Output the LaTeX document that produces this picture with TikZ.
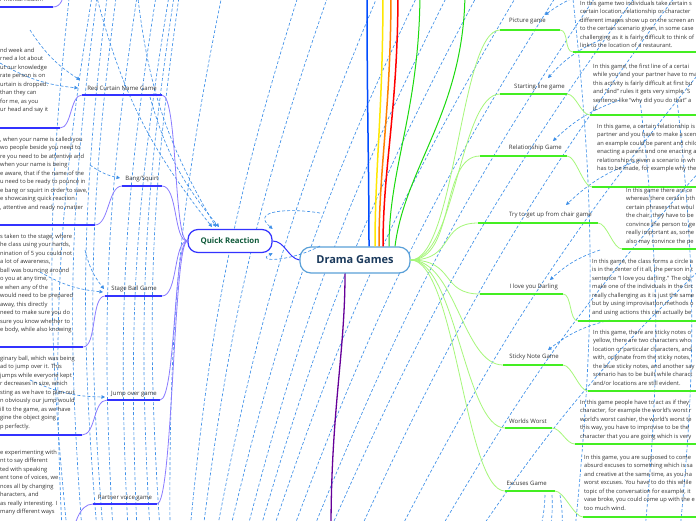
\documentclass[tikz,border=0pt]{standalone}
\usepackage{fontspec}
\setmainfont{Open Sans}
\usetikzlibrary{arrows.meta}
\definecolor{relblue}{HTML}{3D8FE8}
\definecolor{qrline}{HTML}{3333FF}
\definecolor{qrthin}{HTML}{8A7CFF}
\definecolor{grthick}{HTML}{44EE22}
\definecolor{grthin}{HTML}{A6F77A}
\definecolor{txt}{HTML}{333333}
\definecolor{qrtext}{HTML}{105A3A}
\definecolor{dgtext}{HTML}{1B3A5C}
\definecolor{dgborder}{HTML}{5AA0D8}
\begin{document}
\begin{tikzpicture}[x=1pt,y=-1pt,
  body/.style={font=\fontsize{5.75}{8.5}\selectfont, text=txt, align=left, inner sep=0pt, anchor=north west},
  lab/.style={font=\fontsize{6}{7}\selectfont, text=txt, inner sep=0pt},
  rel/.style={draw=relblue, line width=0.65pt, dash pattern=on 3pt off 2pt},
  relar/.style={rel, -{Triangle[length=3.5pt,width=3.5pt]}},
  ulq/.style={draw=qrline, line width=1.6pt},
  thq/.style={draw=qrthin, line width=0.8pt},
  ulg/.style={draw=grthick, line width=1.6pt},
  thg/.style={draw=grthin, line width=0.8pt},
]
\useasboundingbox (0,0) rectangle (696,520);
\fill[white] (0,0) rectangle (696,520);

% ---------- dashed relationship lines ----------
\foreach \ax/\ay/\bx/\by [count=\i] in {
  62/530/93/-10, 67/530/70/-10, 82/530/98/-10, 97/530/108/-10, 103/530/117/-10,
  113/530/138/-10, 128/530/157/-10, 137/530/170/-10, 150/530/175/-10, 160/530/180/-10,
  170/530/223/-10, 190/530/300/-10, 203/530/330/-10, 217/530/380/-10, 230/530/420/-10,
  247/530/450/-10, 260/530/480/-10, 273/530/520/-10, 293/530/560/-10, 313/530/600/-10,
  330/530/640/-10, 360/530/680/-10, 400/530/710/60, 440/530/710/160, 480/530/710/260,
  572/-10/575/530, 640/100/645/530, 677/100/680/530, 545/495/540/530, 552/495/550/530,
  560/495/562/530}
{
  \coordinate (va\i) at (\ax,\ay);
  \coordinate (vb\i) at (\bx,\by);
  \draw[rel] (va\i) to[bend left=6] (vb\i);
}
\foreach \ax/\ay/\bx/\by [count=\i] in {
  600/-10/545/15, 600/40/548/78, 620/100/553/141, 640/160/566/205,
  600/250/550/280, 610/320/548/350, 95/-10/212/227, 137/-10/216/227,
  150/97/219/227, 0/63/78/88, 30/30/80/80, 90/165/120/178, 40/272/103/292,
  85/250/104/289, 30/380/105/397}
{
  \coordinate (ra\i) at (\ax,\ay);
  \coordinate (rb\i) at (\bx,\by);
  \draw[relar] (ra\i) to[bend right=12] (rb\i);
}
\coordinate (arcA) at (320,213);
\coordinate (arcB) at (320,246);

% ---------- central nodes ----------
\node[draw=dgborder, line width=1.2pt, rounded corners=11pt, fill=white,
      minimum width=110pt, minimum height=26pt, text=dgtext,
      font=\fontsize{11}{13}\selectfont\bfseries] (dg) at (355,260) {Drama Games};
\node[draw=qrline, line width=1.2pt, rounded corners=10pt, fill=white,
      minimum width=84pt, minimum height=23pt, text=qrtext,
      font=\fontsize{7.8}{9}\selectfont\bfseries] (qr) at (230,241) {Quick Reaction};
\draw[relar] (arcA) .. controls (290,208) and (250,210) .. (qr.north east);
\draw[relar] (arcB) .. controls (290,262) and (255,262) .. (qr.south east);
\draw[draw=qrline, line width=1pt] (qr.east) .. controls (285,241) and (288,258) .. (dg.west);

% colored branches leaving the top of Drama Games
\coordinate (tb) at (367,-10);
\coordinate (ty) at (383,-10);
\coordinate (to) at (391,-10);
\coordinate (tr) at (398,-10);
\coordinate (tg1) at (420,-10);
\coordinate (tg2) at (465,-10);
\coordinate (bp) at (331,530);
\draw[draw=blue!70!cyan, line width=1.5pt] ([xshift=14pt]dg.north) .. controls +(0,-80) and +(0,120) .. (tb);
\draw[draw=yellow!90!orange, line width=1.5pt] ([xshift=20pt]dg.north) .. controls +(0,-80) and +(0,120) .. (ty);
\draw[draw=orange, line width=1.5pt] ([xshift=24pt]dg.north) .. controls +(0,-80) and +(0,120) .. (to);
\draw[draw=red, line width=1.5pt] ([xshift=28pt]dg.north) .. controls +(0,-80) and +(0,120) .. (tr);
\draw[thg, draw=green!80!black!60!grthick, line width=1pt] ([xshift=34pt]dg.north) .. controls +(0,-80) and +(0,120) .. (tg1);
\draw[thg, draw=green!80!black!60!grthick, line width=1pt] ([xshift=40pt]dg.north) .. controls +(10,-80) and +(0,120) .. (tg2);
\draw[draw=violet!80!blue, line width=1.3pt] ([xshift=-10pt]dg.south) .. controls +(0,80) and +(0,-120) .. (bp);

% ---------- Quick Reaction children ----------
\node[lab] (lrc) at (122,88) {Red Curtain Name Game};
\node[lab] (lbs) at (142,179) {Bang/Squirt};
\node[lab] (lsb) at (134,289) {Stage Ball Game};
\node[lab] (ljo) at (134,394) {Jump over game};
\node[lab] (lpv) at (125,498) {Partner voice game};
\coordinate (rcA) at (82,95);  \coordinate (rcB) at (162,95);
\coordinate (bsA) at (122,186); \coordinate (bsB) at (162,186);
\coordinate (sbA) at (105,296); \coordinate (sbB) at (162,296);
\coordinate (joA) at (107,400); \coordinate (joB) at (160,400);
\coordinate (pvA) at (93,504);  \coordinate (pvB) at (157,504);
\foreach \n in {rc,bs,sb,jo,pv} {
  \draw[ulq] (\n A) -- (\n B);
  \draw[thq] (qr.west) .. controls +(-14,0) and +(16,0) .. (\n B);
}

% left text blocks
\node[body] (top) at (0,-3) {r mental health?};
\draw[ulq] (0,7) coordinate (mhA) -- (53,7) coordinate (mhB);
\coordinate (mhC) at (64,-12);
\draw[thq] (mhB) .. controls +(8,0) and +(0,10) .. (mhC);

\node[body] (trc) at (0,47.5) {nd week and\\rned a lot about\\ut our knowledge\\rate person is on\\urtain is dropped.\\ than they can\\ for me, as you\\ur head and say it};
\coordinate (trcA) at (0,128); \coordinate (trcB) at (60,128);
\draw[ulq] (trcA) -- (trcB);
\draw[thq] (trcB) .. controls +(12,0) and +(-12,0) .. (rcA);

\node[body] (tbs) at (0,136.5) {, when your name is called you\\wo people beside you need to\\re you need to be attentive and\\ when your name is being\\e aware, that if the name of the\\u need to be ready to pounce in\\e bang or squirt in order to save,\\e showcasing quick reaction\\, attentive and ready no matter};
\coordinate (tbsA) at (0,225); \coordinate (tbsB) at (95,225);
\draw[ulq] (tbsA) -- (tbsB);
\draw[thq] (tbsB) .. controls +(14,0) and +(-14,0) .. (bsA);

\node[body] (tsb) at (0,233.5) {s taken to the stage, where\\he class using your hands,\\nination of 5 you could not\\ a lot of awareness,\\ ball was bouncing around\\o you at any time,\\e when any of the\\would need to be prepared\\ away, this directly\\need to make sure you do\\sure you know whether to\\e body, while also knowing};
\coordinate (tsbA) at (0,347); \coordinate (tsbB) at (83,347);
\draw[ulq] (tsbA) -- (tsbB);
\draw[thq] (tsbB) .. controls +(14,0) and +(-14,0) .. (sbA);

\node[body] (tjo) at (0,355.5) {ginary ball, which was being\\ad to jump over it. This\\ jumps while everyone kept\\r decreases in size, which\\sting as we have to plan out\\n obviously our jump would\\ill to the game, as we have\\gine the object going\\p perfectly.};
\coordinate (tjoA) at (0,435); \coordinate (tjoB) at (82,435);
\draw[ulq] (tjoA) -- (tjoB);
\draw[thq] (tjoB) .. controls +(14,0) and +(-14,0) .. (joA);

\node[body] (tpv) at (0,449.5) {e experimenting with\\nt to say different\\ted with speaking\\ent tone of voices, we\\nces all by changing\\haracters, and\\as really interesting. I\\ many different ways};
\coordinate (tpvC) at (70,545);
\draw[thq] (pvA) .. controls +(-14,0) and +(4,-20) .. (tpvC);

% ---------- right side children ----------
\node[lab, anchor=east] (rpic) at (546,21) {Picture game};
\node[lab, anchor=east] (rsta) at (565,87) {Starting line game};
\node[lab, anchor=east] (rrel) at (562,148) {Relationship Game};
\node[lab, anchor=east] (rcha) at (592,215) {Try to get up from chair game};
\node[lab, anchor=east] (rlov) at (558,287) {I love you Darling};
\node[lab, anchor=east] (rsti) at (559,357) {Sticky Note Game};
\node[lab, anchor=east] (rwor) at (547,421) {Worlds Worst};
\node[lab, anchor=east] (rexc) at (547,483) {Excuses Game};

\foreach \n/\y/\xa/\xb/\xc/\yc in {pic/30/500/560/573/52, sta/94/500/567/590/115,
  rel/156/480/567/592/187, cha/223/478/598/622/249, lov/294/480/563/578/321,
  sti/365/503/563/588/391, wor/428/505/552/575/444, exc/491/505/555/583/517} {
  \coordinate (\n A) at (\xa,\y);
  \coordinate (\n B) at (\xb,\y);
  \coordinate (\n C) at (\xc,\yc);
  \coordinate (\n D) at (700,\yc);
  \draw[thg] (dg.east) .. controls +(45,0) and +(-40,0) .. (\n A);
  \draw[ulg] (\n A) -- (\n B);
  \draw[thg] (\n B) .. controls +(9,0) and +(-9,0) .. (\n C);
  \draw[ulg] (\n C) -- (\n D);
}

\node[body] (tpic) at (580,0.5) {In this game two individuals take certain s\\certain location, relationship or character\\different images show up on the screen an\\to the certain scenario given, in some case\\challenging as it is fairly difficult to think of\\link to the location of a restaurant.};
\node[body] (tsta) at (593,63.5) {In this game, the first line of a certai\\while you and your partner have to ma\\this activity is fairly difficult at first bu\\and ``and'' rules it gets very simple. S\\sentence like ``why did you do that'' a\\it.};
\node[body] (trel) at (597,123.5) {In this game, a certain relationship is g\\partner and you have to make a scen\\an example could be parent and child\\enacting a parent and one enacting a\\relationship is given a scenario in wh\\has to be made, for example why the};
\node[body] (tcha) at (626,187.5) {In this game there are ce\\whereas there certain oth\\certain phrases that woul\\the chair, they have to be\\convince the person to ge\\really important as, some\\also may convince the pe};
\node[body] (tlov) at (592,258.5) {In this game, the class forms a circle a\\is in the center of it all, the person in t\\sentence ``I love you darling.'' The obj\\make one of the individuals in the circ\\really challenging as it is just the same\\but by using improvisation methods o\\and using actions this can actually be};
\node[body] (tsti) at (593,329.5) {In this game, there are sticky notes o\\yellow, there are two characters who\\location or particular characters, and\\with, originate from the sticky notes,\\the blue sticky notes, and another say\\scenario has to be built while charact\\and/or locations are still evident.};
\node[body] (twor) at (580,399.5) {In this game people have to act as if they\\character, for example the world's worst r\\world's worst cashier, the world's worst te\\this way, you have to improvise to be the\\character that you are going which is very};
\node[body] (texc) at (584,454.5) {In this game, you are supposed to come\\absurd excuses to something which is sa\\and creative at the same time, as you ha\\worst excuses. You have to do this while\\topic of the conversation for example, it\\vase broke, you could come up with the e\\too much wind.};
\end{tikzpicture}
\end{document}
